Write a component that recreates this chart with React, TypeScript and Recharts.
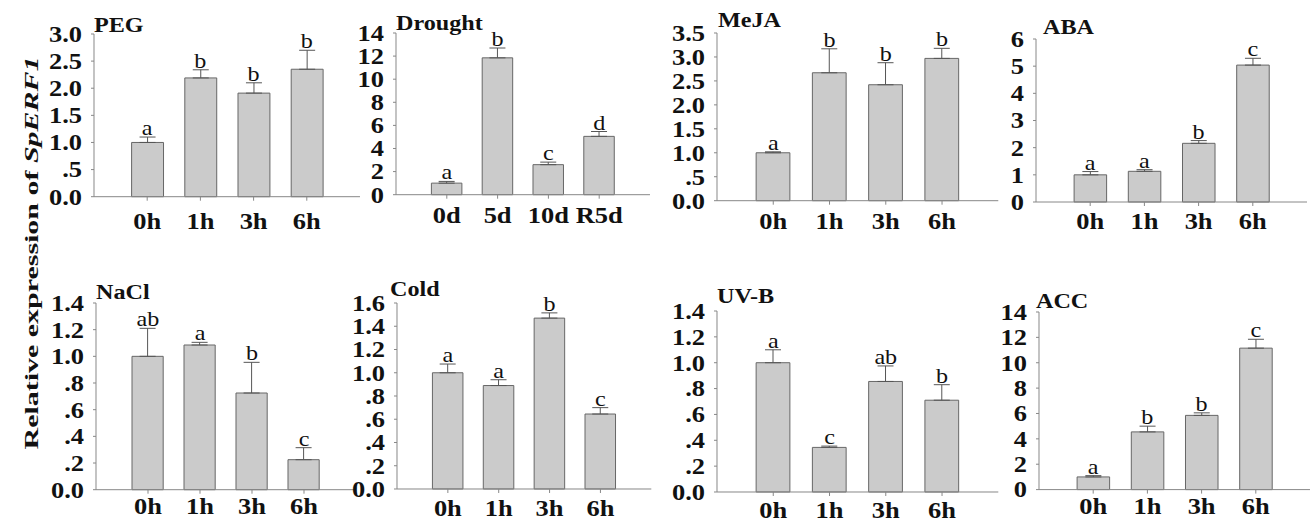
import React from "react";
import { ComposedChart, Bar, ErrorBar, Scatter, XAxis, YAxis } from "recharts";

const hourLabels = ["0h", "1h", "3h", "6h"];
const dayLabels = ["0d", "5d", "10d", "R5d"];

const pegMean = [1.0, 2.19, 1.91, 2.35];
const pegSd = [0.1, 0.15, 0.19, 0.35];
const pegLetters = ["a", "b", "b", "b"];
const pegTicks = [0, 0.5, 1, 1.5, 2, 2.5, 3];

const droughtMean = [1.0, 11.85, 2.6, 5.05];
const droughtSd = [0.15, 0.85, 0.22, 0.42];
const droughtLetters = ["a", "b", "c", "d"];
const droughtTicks = [0, 2, 4, 6, 8, 10, 12, 14];

const mejaMean = [1.0, 2.67, 2.42, 2.97];
const mejaSd = [0.02, 0.5, 0.46, 0.21];
const mejaLetters = ["a", "b", "b", "b"];
const mejaTicks = [0, 0.5, 1, 1.5, 2, 2.5, 3, 3.5];

const abaMean = [1.0, 1.13, 2.16, 5.04];
const abaSd = [0.12, 0.06, 0.1, 0.25];
const abaLetters = ["a", "a", "b", "c"];
const abaTicks = [0, 1, 2, 3, 4, 5, 6];

const naclMean = [1.0, 1.085, 0.725, 0.225];
const naclSd = [0.21, 0.02, 0.23, 0.09];
const naclLetters = ["ab", "a", "b", "c"];
const naclTicks = [0, 0.2, 0.4, 0.6, 0.8, 1.0, 1.2, 1.4];

const coldMean = [1.0, 0.89, 1.47, 0.645];
const coldSd = [0.075, 0.05, 0.045, 0.055];
const coldLetters = ["a", "a", "b", "c"];
const coldTicks = [0, 0.2, 0.4, 0.6, 0.8, 1.0, 1.2, 1.4, 1.6];

const uvbMean = [1.0, 0.345, 0.855, 0.71];
const uvbSd = [0.1, 0.01, 0.12, 0.12];
const uvbLetters = ["a", "c", "ab", "b"];
const uvbTicks = [0, 0.2, 0.4, 0.6, 0.8, 1.0, 1.2, 1.4];

const accMean = [1.0, 4.55, 5.85, 11.15];
const accSd = [0.1, 0.45, 0.2, 0.7];
const accLetters = ["a", "b", "b", "c"];
const accTicks = [0, 2, 4, 6, 8, 10, 12, 14];

const FONT = "Liberation Serif, Times New Roman, Times, serif";
const SX = 1.15;
const YW = 70;
const MT = 24;
const XH = 44;
const MR = 6;

function fmtDec(v: number) {
  if (v === 0) return "0.0";
  if (v < 1) return v.toFixed(1).slice(1);
  return v.toFixed(1);
}

type PanelProps = {
  labels: string[];
  mean: number[];
  sd: number[];
  letters: string[];
  ticks: number[];
  decimals: boolean;
  left: number;
  right: number;
  top: number;
  bottom: number;
  gap: number;
};

function Panel({ labels, mean, sd, letters, ticks, decimals, left, right, top, bottom, gap }: PanelProps) {
  const data = mean.map((m, i) => ({
    pos: i + 1,
    mean: m,
    err: [0, sd[i]],
    top: m + sd[i],
    letter: letters[i],
  }));
  const width = YW + (right - left) + MR;
  const height = MT + (bottom - top) + XH;
  const yMax = ticks[ticks.length - 1];

  const yTick = (p: any) => (
    <text
      transform={`translate(${p.x},${p.y}) scale(${SX},1)`}
      textAnchor="end"
      dominantBaseline="central"
      style={{ fontFamily: FONT, fontWeight: "bold", fontSize: 23 }}
      fill="#111"
    >
      {decimals ? fmtDec(p.payload.value) : String(p.payload.value)}
    </text>
  );
  const xTick = (p: any) => (
    <text
      transform={`translate(${p.x},${p.y}) scale(${SX},1)`}
      textAnchor="middle"
      dy="0.71em"
      style={{ fontFamily: FONT, fontWeight: "bold", fontSize: 23 }}
      fill="#111"
    >
      {labels[p.payload.value - 1]}
    </text>
  );
  const letterShape = (p: any) => (
    <text
      transform={`translate(${p.cx},${p.cy - 2}) scale(${SX},1)`}
      textAnchor="middle"
      style={{ fontFamily: FONT, fontSize: 21 }}
      fill="#111"
    >
      {p.payload.letter}
    </text>
  );

  return (
    <div style={{ position: "absolute", left: left - YW, top: top - MT }}>
      <ComposedChart width={width} height={height} data={data} margin={{ top: MT, right: MR, bottom: 0, left: 0 }}>
        <XAxis
          dataKey="pos"
          type="number"
          domain={[0, 5]}
          ticks={[1, 2, 3, 4]}
          interval={0}
          height={XH}
          tickSize={4}
          tickMargin={gap}
          stroke="#888"
          tick={xTick}
        />
        <YAxis
          type="number"
          domain={[0, yMax]}
          ticks={ticks}
          interval={0}
          width={YW}
          tickSize={3}
          tickMargin={9}
          stroke="#888"
          tick={yTick}
        />
        <Bar
          dataKey="mean"
          barSize={(0.6 * (right - left)) / 5}
          fill="#cbcbcb"
          stroke="#666"
          strokeWidth={1}
          isAnimationActive={false}
        >
          <ErrorBar dataKey="err" direction="y" width={8} stroke="#555" strokeWidth={1} />
        </Bar>
        <Scatter dataKey="top" shape={letterShape} isAnimationActive={false} />
      </ComposedChart>
    </div>
  );
}

const titles = [
  { text: "PEG", x: 94, y: 32 },
  { text: "Drought", x: 396, y: 30 },
  { text: "MeJA", x: 718, y: 27 },
  { text: "ABA", x: 1043, y: 34 },
  { text: "NaCl", x: 96, y: 299 },
  { text: "Cold", x: 390, y: 296 },
  { text: "UV-B", x: 717, y: 303 },
  { text: "ACC", x: 1036, y: 308 },
];

export default function App() {
  return (
    <div style={{ position: "absolute", left: 0, top: 0, width: 1312, height: 523, background: "#fff", overflow: "hidden" }}>
      <Panel labels={hourLabels} mean={pegMean} sd={pegSd} letters={pegLetters} ticks={pegTicks} decimals left={94} right={360} top={34.3} bottom={197} gap={12} />
      <Panel labels={dayLabels} mean={droughtMean} sd={droughtSd} letters={droughtLetters} ticks={droughtTicks} decimals={false} left={396} right={650} top={33.3} bottom={195} gap={8} />
      <Panel labels={hourLabels} mean={mejaMean} sd={mejaSd} letters={mejaLetters} ticks={mejaTicks} decimals left={716.7} right={998} top={33.3} bottom={201} gap={8} />
      <Panel labels={hourLabels} mean={abaMean} sd={abaSd} letters={abaLetters} ticks={abaTicks} decimals={false} left={1036} right={1307} top={39.3} bottom={202.3} gap={7} />
      <Panel labels={hourLabels} mean={naclMean} sd={naclSd} letters={naclLetters} ticks={naclTicks} decimals left={96} right={356} top={303.3} bottom={490} gap={4} />
      <Panel labels={hourLabels} mean={coldMean} sd={coldSd} letters={coldLetters} ticks={coldTicks} decimals left={396.7} right={651} top={303.3} bottom={489.3} gap={7} />
      <Panel labels={hourLabels} mean={uvbMean} sd={uvbSd} letters={uvbLetters} ticks={uvbTicks} decimals left={716.7} right={998} top={310.7} bottom={491.7} gap={6} />
      <Panel labels={hourLabels} mean={accMean} sd={accSd} letters={accLetters} ticks={accTicks} decimals={false} left={1039} right={1310} top={311.7} bottom={489.3} gap={4} />
      <svg width={1312} height={523} style={{ position: "absolute", left: 0, top: 0, pointerEvents: "none" }}>
        {titles.map((t) => (
          <text
            key={t.text}
            transform={`translate(${t.x},${t.y}) scale(${SX},1)`}
            style={{ fontFamily: FONT, fontWeight: "bold", fontSize: 21 }}
            fill="#111"
          >
            {t.text}
          </text>
        ))}
        <text
          transform="translate(38,253) rotate(-90)"
          textAnchor="middle"
          style={{ fontFamily: FONT, fontWeight: "bold", fontSize: 19 }}
          fill="#111"
          textLength={393}
          lengthAdjust="spacingAndGlyphs"
        >
          Relative expression of <tspan fontStyle="italic">SpERF1</tspan>
        </text>
      </svg>
    </div>
  );
}
